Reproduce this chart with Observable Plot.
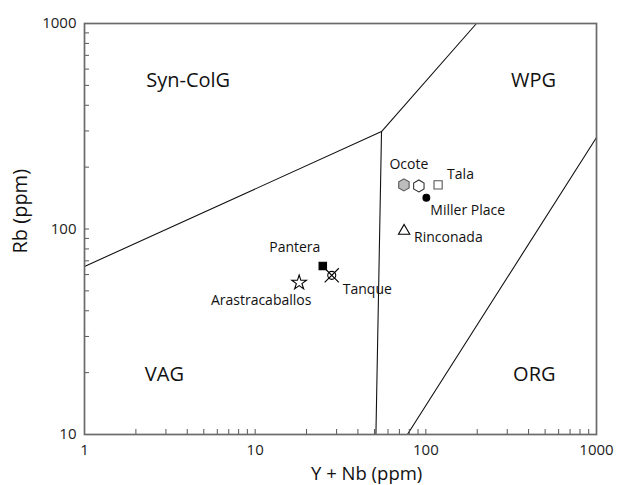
<!DOCTYPE html>
<html>
<head>
<meta charset="utf-8">
<script src="https://cdn.jsdelivr.net/npm/d3@7"></script>
<script src="https://cdn.jsdelivr.net/npm/@observablehq/plot@0.6"></script>
<style>
  html, body { margin: 0; padding: 0; background: #fff; }
  #chart svg { display: block; }
</style>
</head>
<body>
<div id="chart"></div>
<script>
// ---- Data ----
const xTickLabels = [1, 10, 100, 1000];
const yTickLabels = [10, 100, 1000];
const xMinorTicks = [2,3,4,5,6,7,8,9,20,30,40,50,60,70,80,90,200,300,400,500,600,700,800,900];
const yMinorTicks = [20,30,40,50,60,70,80,90,200,300,400,500,600,700,800,900];

const xTitle = "Y + Nb (ppm)";
const yTitle = "Rb (ppm)";

// Field boundaries (Y+Nb, Rb)
const boundaryIds = ["synVag", "synWpg", "vagWpg", "wpgOrg"];
const boundaryX = [[1, 55], [55, 198], [55, 51], [78, 1000]];
const boundaryY = [[65.7, 298], [298, 1000], [298, 10], [10, 279]];

// Field names
const fieldNames = ["Syn-ColG", "WPG", "VAG", "ORG"];
const fieldX = [4.05, 427, 2.94, 432];
const fieldY = [526, 526, 19.5, 19.5];

// Samples
const sampleNames = ["Ocote", "Ocote 2", "Tala", "Miller Place", "Rinconada", "Pantera", "Tanque", "Arastracaballos"];
const sampleX = [74.4, 91, 118, 100.7, 74.6, 24.9, 28.1, 18.1];
const sampleY = [164, 162, 164, 142, 97.8, 66.1, 59.5, 54.8];
const sampleLabels = ["Ocote", "", "Tala", "Miller Place", "Rinconada", "Pantera", "Tanque", "Arastracaballos"];

// ---- Build tables ----
const boundaries = boundaryIds.flatMap((id, i) =>
  boundaryX[i].map((x, j) => ({id, x, y: boundaryY[i][j]})));
const fields = fieldNames.map((name, i) => ({name, x: fieldX[i], y: fieldY[i]}));
const samples = sampleNames.map((name, i) => ({name, label: sampleLabels[i], x: sampleX[i], y: sampleY[i]}));

// styles per sample
const markerStyle = {
  "Ocote":           {symbol: "hexagon",  fill: "#bdbdbd", stroke: "#555", r: 5.2},
  "Ocote 2":         {symbol: "hexagon",  fill: "#fff",    stroke: "#333", r: 5.2},
  "Tala":            {symbol: "square",   fill: "#fff",    stroke: "#555", r: 4.6},
  "Miller Place":    {symbol: "circle",   fill: "#000",    stroke: "#000", r: 3.4},
  "Rinconada":       {symbol: "triangle", fill: "#fff",    stroke: "#000", r: 4.2},
  "Pantera":         {symbol: "square",   fill: "#000",    stroke: "#000", r: 4.2},
  "Tanque":          {symbol: "circle",   fill: "none",    stroke: "#000", r: 4.0},
  "Arastracaballos": {symbol: "star",     fill: "#fff",    stroke: "#000", r: 4.6}
};
const labelOffset = {
  "Ocote":           {dx: 5,   dy: -20,  anchor: "middle"},
  "Tala":            {dx: 9,   dy: -10,  anchor: "start"},
  "Miller Place":    {dx: 4,   dy: 13,   anchor: "start"},
  "Rinconada":       {dx: 10,  dy: 7,    anchor: "start"},
  "Pantera":         {dx: -28, dy: -18,  anchor: "middle"},
  "Tanque":          {dx: 11,  dy: 14.5, anchor: "start"},
  "Arastracaballos": {dx: -38, dy: 18,   anchor: "middle"}
};

const W = 620, H = 485, mL = 84, mR = 24, mT = 23, mB = 51;
const plotW = W - mL - mR, plotH = H - mT - mB;
const font = "'Open Sans', 'Noto Sans', sans-serif";

const marks = [
  // boundary lines
  Plot.line(boundaries, {x: "x", y: "y", z: "id", stroke: "#111", strokeWidth: 1.1}),
  // inward ticks
  Plot.ruleX(xTickLabels.concat(xMinorTicks), {x: d => d, insetTop: plotH - 5, stroke: "#555", strokeWidth: 1}),
  Plot.ruleY(yTickLabels.concat(yMinorTicks), {y: d => d, insetRight: plotW - 5, stroke: "#555", strokeWidth: 1}),
  Plot.frame({stroke: "#6a6a6a", strokeWidth: 1.7}),
  // tick labels
  Plot.axisX({ticks: xTickLabels, tickSize: 0, tickPadding: 10, tickFormat: d => String(d), fontSize: 15, label: null, fill: "#222"}),
  Plot.axisY({ticks: yTickLabels, tickSize: 0, tickPadding: 8, tickFormat: d => String(d), fontSize: 15, label: null, fill: "#222"}),
  // axis titles
  Plot.text([xTitle], {x: 45, frameAnchor: "bottom", dy: 39.3, lineAnchor: "middle", textAnchor: "middle", text: d => d, fontSize: 18.5, fill: "#111"}),
  Plot.text([yTitle], {y: 122, frameAnchor: "left", dx: -64, rotate: -90, textAnchor: "middle", lineAnchor: "middle", text: d => d, fontSize: 20, fill: "#111"}),
  // field names
  Plot.text(fields, {x: "x", y: "y", text: "name", fontSize: 20, fill: "#111"}),
];

// Tanque cross
const tanque = samples.filter(d => d.name === "Tanque");
marks.push(Plot.dot(tanque, {x: "x", y: "y", symbol: "times", r: 6.5, stroke: "#000", strokeWidth: 1.1}));

for (const s of samples) {
  const st = markerStyle[s.name];
  marks.push(Plot.dot([s], {x: "x", y: "y", symbol: st.symbol, r: st.r, fill: st.fill, stroke: st.stroke, strokeWidth: 1.1}));
  const lo = labelOffset[s.name];
  if (lo && s.label) {
    marks.push(Plot.text([s], {x: "x", y: "y", text: "label", dx: lo.dx, dy: lo.dy, textAnchor: lo.anchor, fontSize: 14, fill: "#111"}));
  }
}

const chart = Plot.plot({
  width: W, height: H,
  marginLeft: mL, marginRight: mR, marginTop: mT, marginBottom: mB,
  style: {fontFamily: font, background: "#fff", overflow: "visible"},
  x: {type: "log", domain: [1, 1000], axis: null},
  y: {type: "log", domain: [10, 1000], axis: null},
  marks
});
document.getElementById("chart").appendChild(chart);
</script>
</body>
</html>
